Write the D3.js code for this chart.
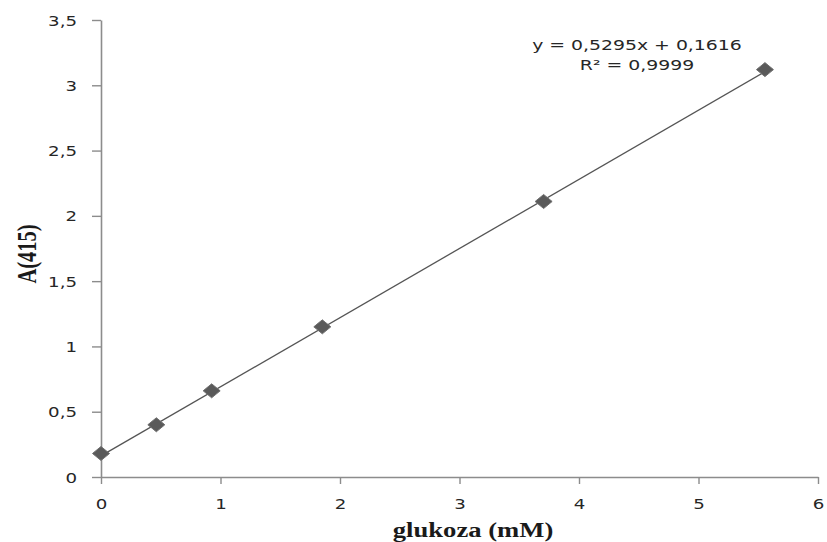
<!DOCTYPE html>
<html lang='pl'>
<head>
<meta charset='utf-8'/>
<title>glukoza</title>
<script src='https://d3js.org/d3.v7.min.js'></script>
<style>
  body { margin: 0; background: #fff; }
  svg { display: block; }
</style>
</head>
<body>
<script>
'use strict'
const width = 827
const height = 542

// data
const glucose = [0, 0.463, 0.926, 1.852, 3.704, 5.556]
const absorbance = [0.18, 0.40, 0.66, 1.15, 2.11, 3.12]
const xTicks = [0, 1, 2, 3, 4, 5, 6]
const yTicks = [0, 0.5, 1, 1.5, 2, 2.5, 3, 3.5]
const slope = 0.5295
const intercept = 0.1616
const equationLines = ['y = 0,5295x + 0,1616', 'R² = 0,9999']

const stretch = 1.3
const fmt = d => String(d).replace('.', ',')

const x = d3.scaleLinear().domain([0, 6]).range([101, 818])
const y = d3.scaleLinear().domain([0, 3.5]).range([477, 20])

const svg = d3.select('body').append('svg')
  .attr('width', width)
  .attr('height', height)

svg.append('rect').attr('width', width).attr('height', height).attr('fill', '#fff')

// axes
const xAxis = svg.append('g')
  .attr('transform', 'translate(0,' + y(0) + ')')
  .call(d3.axisBottom(x).tickValues(xTicks).tickFormat(fmt).tickSize(7).tickSizeOuter(0))
const yAxis = svg.append('g')
  .attr('transform', 'translate(' + x(0) + ',0)')
  .call(d3.axisLeft(y).tickValues(yTicks).tickFormat(fmt).tickSize(9).tickSizeOuter(0))

for (const ax of [xAxis, yAxis]) {
  ax.select('.domain').attr('stroke', '#8c8c8c').attr('stroke-width', 1.6)
  ax.selectAll('.tick line').attr('stroke', '#8c8c8c').attr('stroke-width', 1.4)
  ax.selectAll('.tick text')
    .attr('fill', '#262626')
    .style('font-family', 'DejaVu Sans, Verdana, sans-serif')
    .style('font-size', '14px')
}
xAxis.selectAll('.tick text').attr('y', 0).attr('dy', 0)
  .attr('transform', 'translate(0,32) scale(' + stretch + ',1)')
yAxis.selectAll('.tick text').attr('x', 0).attr('dy', '0.36em')
  .attr('transform', 'translate(-24,0) scale(' + stretch + ',1)')

// trend line
svg.append('line')
  .attr('x1', x(0)).attr('y1', y(intercept))
  .attr('x2', x(d3.max(glucose))).attr('y2', y(slope * d3.max(glucose) + intercept))
  .attr('stroke', '#555').attr('stroke-width', 1.3)

// markers
const pts = glucose.map((g, i) => ({x: g, y: absorbance[i]}))
svg.append('g').selectAll('path')
  .data(pts)
  .join('path')
  .attr('d', 'M-8.5,0L0,-7L8.5,0L0,7Z')
  .attr('transform', d => 'translate(' + x(d.x) + ',' + y(d.y) + ')')
  .attr('fill', '#5a5a5a')
  .attr('stroke', '#707070')
  .attr('stroke-width', 1)

// equation
svg.append('g').selectAll('text')
  .data(equationLines)
  .join('text')
  .attr('transform', (d, i) => 'translate(637,' + (50 + i * 20) + ') scale(' + stretch + ',1)')
  .attr('text-anchor', 'middle')
  .attr('fill', '#262626')
  .style('font-family', 'DejaVu Sans, Verdana, sans-serif')
  .style('font-size', '14.5px')
  .text(d => d)

// axis titles
svg.append('text')
  .attr('transform', 'translate(473,537) scale(' + stretch + ',1)')
  .attr('text-anchor', 'middle')
  .attr('fill', '#1a1a1a')
  .style('font-family', 'Liberation Serif, Times New Roman, serif')
  .style('font-weight', 'bold')
  .style('font-size', '20.5px')
  .text('glukoza (mM)')

svg.append('text')
  .attr('transform', 'translate(36,254) rotate(-90) scale(1,' + stretch + ')')
  .attr('text-anchor', 'middle')
  .attr('fill', '#1a1a1a')
  .style('font-family', 'Liberation Serif, Times New Roman, serif')
  .style('font-weight', 'bold')
  .style('font-size', '20.5px')
  .text('A(415)')
</script>
</body>
</html>
